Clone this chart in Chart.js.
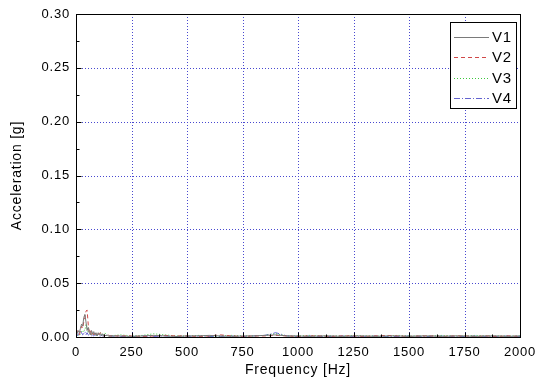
<!DOCTYPE html>
<html>
<head>
<meta charset="utf-8">
<script src="https://cdn.jsdelivr.net/npm/chart.js@4.4.0/dist/chart.umd.min.js"></script>
<style>
html,body{margin:0;padding:0;background:#fff;}
#wrap{width:536px;height:385px;position:relative;}
</style>
</head>
<body>
<div id="wrap"><canvas id="c" width="536" height="385"></canvas></div>
<script>
// ---- data ----
const freqHz = [0,5,10,15,20,25,30,35,40,45,50,55,60,65,70,75,80,85,90,95,100,105,110,115,120,125,130,135,140,145,150,
  200,250,300,350,400,450,500,550,600,650,700,750,800,850,900,950,1000,1050,1100,1150,1200,1250,1300,1350,1400,1450,1500,1550,1600,1650,1700,1750,1800,1850,1900,1950,2000];

const v1Low = [0.001,0.003,0.006,0.004,0.008,0.012,0.010,0.018,0.021,0.014,
  0.006,0.009,0.004,0.002,0.006,0.003,0.005,0.002,0.004,0.001,
  0.004,0.002,0.003,0.001,0.003,0.001,0.002,0.001,0.002,0.001,0.001];
const v1High = [0.001,0.0005,0.001,0.0015,0.001,0.0005,0.001,0.001,0.0015,0.001,
  0.0005,0.001,0.001,0.0015,0.002,0.001,0.001,0.0005,0.001,0.001,
  0.0005,0.001,0.001,0.0005,0.001,0.001,0.0005,0.001,0.001,0.0005,
  0.001,0.001,0.0005,0.001,0.001,0.0005,0.001];

const v2Low = [0.004,0.006,0.004,0.002,0.006,0.010,0.008,0.014,0.018,0.024,
  0.025,0.012,0.004,0.006,0.002,0.004,0.002,0.005,0.002,0.003,
  0.001,0.003,0.004,0.002,0.002,0.001,0.002,0.001,0.001,0.002,0.001];
const v2High = [0.001,0.001,0.0005,0.001,0.0015,0.001,0.001,0.0005,0.001,0.002,
  0.001,0.0005,0.001,0.001,0.0015,0.001,0.0005,0.001,0.001,0.0005,
  0.001,0.001,0.0005,0.001,0.0015,0.001,0.0005,0.001,0.001,0.0005,
  0.001,0.001,0.0005,0.001,0.0005,0.001,0.0005];

const v3Low = [0,0.001,0.002,0.001,0.003,0.005,0.004,0.007,0.006,0.012,
  0.010,0.004,0.006,0.003,0.002,0.004,0.002,0.003,0.001,0.002,
  0.003,0.002,0.004,0.002,0.003,0.002,0.004,0.002,0.001,0.002,0.001];
const v3High = [0.002,0.001,0.0015,0.003,0.002,0.001,0.001,0.0015,0.001,0.001,
  0.0015,0.001,0.001,0.0015,0.003,0.001,0.001,0.0015,0.001,0.001,
  0.001,0.0015,0.001,0.001,0.001,0.0015,0.001,0.001,0.001,0.0015,
  0.001,0.001,0.0015,0.001,0.001,0.001,0.001];

const v4Low = [0,0.001,0.003,0.002,0.006,0.004,0.002,0.003,0.005,0.002,
  0.004,0.002,0.001,0.003,0.001,0.002,0.001,0.002,0.001,0.001,
  0.002,0.001,0.001,0.002,0.001,0.001,0.001,0.002,0.001,0.001,0.001];
const v4High = [0.0005,0.0005,0.001,0.0005,0.001,0.0005,0.0005,0.001,0.0005,0.0005,
  0.001,0.0005,0.001,0.0015,0.004,0.001,0.0005,0.001,0.0005,0.0005,
  0.001,0.0005,0.0005,0.001,0.0005,0.0005,0.001,0.0005,0.0005,0.001,
  0.0005,0.0005,0.001,0.0005,0.0005,0.001,0.0005];

const seriesNames = ['V1','V2','V3','V4'];
const xTickValues = [0,250,500,750,1000,1250,1500,1750,2000];
const xTickLabels = ['0','250','500','750','1000','1250','1500','1750','2000'];
const yTickValues = [0,0.05,0.10,0.15,0.20,0.25,0.30];
const yTickLabels = ['0.00','0.05','0.10','0.15','0.20','0.25','0.30'];

// ---- chart ----
const FONT = 'Liberation Sans, Arial, sans-serif';
const GRID = '#4848d0';
const seriesVals = [v1Low.concat(v1High), v2Low.concat(v2High), v3Low.concat(v3High), v4Low.concat(v4High)];
const styles = [
  {color:'#7a7a7a', dash:[]},
  {color:'#d04848', dash:[4,3]},
  {color:'#3cc83c', dash:[1,2]},
  {color:'#6464d0', dash:[6,2,1,2]}
];
const datasets = seriesNames.map((n,i)=>({
  label:n,
  data: freqHz.map((f,j)=>({x:f,y:seriesVals[i][j]})),
  borderColor: styles[i].color,
  borderDash: styles[i].dash,
  borderWidth: 1,
  pointRadius: 0,
  tension: 0,
  fill: false
}));

const framePlugin = {
  id: 'frame',
  beforeDraw(chart){
    chart.ctx.letterSpacing = '0.8px';
  },
  beforeDatasetsDraw(chart){
    const {ctx, chartArea:a, scales:{x,y}} = chart;
    ctx.save();
    ctx.strokeStyle = GRID;
    ctx.lineWidth = 1;
    ctx.setLineDash([1,2]);
    ctx.beginPath();
    for (let i=1;i<xTickValues.length-1;i++){
      const px = Math.round(x.getPixelForValue(xTickValues[i]))+0.5;
      ctx.moveTo(px, a.top); ctx.lineTo(px, a.bottom);
    }
    for (let i=1;i<yTickValues.length-1;i++){
      const py = Math.round(y.getPixelForValue(yTickValues[i]))+0.5;
      ctx.moveTo(a.left, py); ctx.lineTo(a.right, py);
    }
    ctx.stroke();
    ctx.restore();
  },
  afterDraw(chart){
    const {ctx, chartArea:a, scales:{x,y}} = chart;
    ctx.save();
    ctx.strokeStyle = '#000';
    ctx.lineWidth = 1;
    ctx.setLineDash([]);
    const L = Math.round(a.left)+0.5, R = Math.round(a.right)+0.5, T = Math.round(a.top)+0.5, B = Math.round(a.bottom)+0.5;
    ctx.strokeRect(L, T, R-L, B-T);
    ctx.beginPath();
    for (let i=0;i<yTickValues.length;i++){
      const py = Math.round(y.getPixelForValue(yTickValues[i]))+0.5;
      ctx.moveTo(L, py); ctx.lineTo(L+5, py);
      if (i < yTickValues.length-1){
        const my = Math.round(y.getPixelForValue((yTickValues[i]+yTickValues[i+1])/2))+0.5;
        ctx.moveTo(L, my); ctx.lineTo(L+3, my);
      }
    }
    for (let i=0;i<xTickValues.length;i++){
      const px = Math.round(x.getPixelForValue(xTickValues[i]))+0.5;
      ctx.moveTo(px, B); ctx.lineTo(px, B-5);
      if (i < xTickValues.length-1){
        const mx = Math.round(x.getPixelForValue((xTickValues[i]+xTickValues[i+1])/2))+0.5;
        ctx.moveTo(mx, B); ctx.lineTo(mx, B-3);
      }
    }
    ctx.stroke();

    // legend box inside plot
    const bx = 450.5, by = 22.5, bw = 66, bh = 86;
    ctx.fillStyle = '#fff';
    ctx.fillRect(bx, by, bw, bh);
    ctx.strokeStyle = '#000';
    ctx.strokeRect(bx, by, bw, bh);
    ctx.font = '15px ' + FONT;
    ctx.textBaseline = 'middle';
    ctx.textAlign = 'left';
    chart.data.datasets.forEach((ds,i)=>{
      const ly = 37 + i*20.3;
      ctx.strokeStyle = ds.borderColor;
      ctx.setLineDash(ds.borderDash);
      ctx.beginPath();
      ctx.moveTo(454, Math.round(ly)+0.5);
      ctx.lineTo(489, Math.round(ly)+0.5);
      ctx.stroke();
      ctx.setLineDash([]);
      ctx.fillStyle = '#000';
      ctx.fillText(ds.label, 492, ly+1);
    });
    ctx.restore();
  }
};

new Chart(document.getElementById('c'), {
  type: 'line',
  data: { datasets },
  plugins: [framePlugin],
  options: {
    responsive: false,
    animation: false,
    events: [],
    layout: { padding: { top: 14, right: 16, left: 0, bottom: 0 } },
    plugins: { legend: { display: false }, tooltip: { enabled: false } },
    scales: {
      x: {
        type: 'linear', min: 0, max: 2000,
        afterFit: s => { s.height = 48; s.paddingRight = 0; s.paddingLeft = 0; },
        afterBuildTicks: s => { s.ticks = xTickValues.map(v=>({value:v})); },
        ticks: { autoSkip:false, maxRotation:0, padding: 8, color:'#000', font:{family:FONT, size:13},
          callback: v => { const k = xTickValues.indexOf(v); return k>=0 ? xTickLabels[k] : ''; } },
        grid: { display:false, drawTicks:false },
        border: { display:false },
        title: { display:true, text:'Frequency [Hz]', color:'#000', font:{family:FONT, size:14}, padding:{top:0,bottom:6} }
      },
      y: {
        type: 'linear', min: 0, max: 0.3,
        afterFit: s => { s.width = 76; s.paddingTop = 0; s.paddingBottom = 0; },
        afterBuildTicks: s => { s.ticks = yTickValues.map(v=>({value:v})); },
        ticks: { autoSkip:false, padding: 6, color:'#000', font:{family:FONT, size:13},
          callback: v => { const k = yTickValues.findIndex(t=>Math.abs(t-v)<1e-9); return k>=0 ? yTickLabels[k] : ''; } },
        grid: { display:false, drawTicks:false },
        border: { display:false },
        title: { display:true, text:'Acceleration [g]', color:'#000', font:{family:FONT, size:14}, padding:{top:9,bottom:0} }
      }
    }
  }
});
</script>
</body>
</html>
